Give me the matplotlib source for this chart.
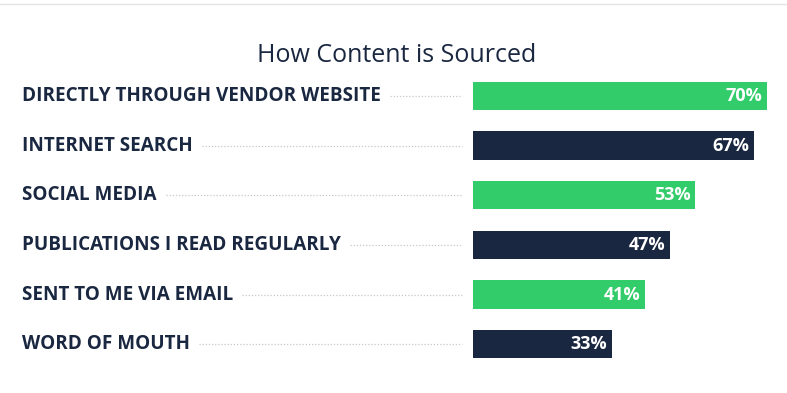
import matplotlib
matplotlib.use("Agg")
import matplotlib.pyplot as plt
from matplotlib.lines import Line2D
from matplotlib.transforms import blended_transform_factory

categories = [
    "DIRECTLY THROUGH VENDOR WEBSITE",
    "INTERNET SEARCH",
    "SOCIAL MEDIA",
    "PUBLICATIONS I READ REGULARLY",
    "SENT TO ME VIA EMAIL",
    "WORD OF MOUTH",
]
values = [70, 67, 53, 47, 41, 33]
colors = ["#33cc6a", "#1a2740", "#33cc6a", "#1a2740", "#33cc6a", "#1a2740"]

NAVY = "#1a2740"
W, H = 787, 393

plt.rcParams["font.family"] = ["Open Sans", "DejaVu Sans"]

fig = plt.figure(figsize=(W / 100, H / 100), dpi=100)
ax = fig.add_axes([473 / W, (H - 369) / H, 314 / W, 298 / H])
ax.barh(range(len(values)), values, height=0.565, color=colors)
ax.set_xlim(0, 74.8)
ax.set_ylim(len(values) - 0.5, -0.5)
ax.axis("off")

# value labels inside the bar ends
for i, v in enumerate(values):
    ax.annotate(f"{v}%", (v, i), xytext=(-3.5, 0), textcoords="offset points",
                ha="right", va="center", color="white", fontsize=13,
                fontweight="bold")

# category labels on the left, figure x / data y
tr = blended_transform_factory(fig.transFigure, ax.transData)
labels = []
for i, c in enumerate(categories):
    labels.append(fig.text(22 / W, i, c, transform=tr, ha="left", va="center",
                           fontsize=13.6, fontweight="bold", color=NAVY))

fig.text(397 / W, 1 - 55 / H, "How Content is Sourced", ha="center", va="center",
         fontsize=18, color=NAVY)

# thin rule at the top
fig.add_artist(Line2D([0, 1], [1 - 4 / H, 1 - 4 / H], color="#e2e4e8", lw=1))

# dotted leaders from label end to bars
fig.canvas.draw()
r = fig.canvas.get_renderer()
for i, t in enumerate(labels):
    bb = t.get_window_extent(r)
    y = tr.transform((0, i))[1] / H
    fig.add_artist(Line2D([(bb.x1 + 9) / W, 462 / W], [y, y], color="#c4c8cf",
                          lw=0.9, ls=(0, (1, 1.5))))

fig.savefig("out.png", dpi=100, facecolor="white")
